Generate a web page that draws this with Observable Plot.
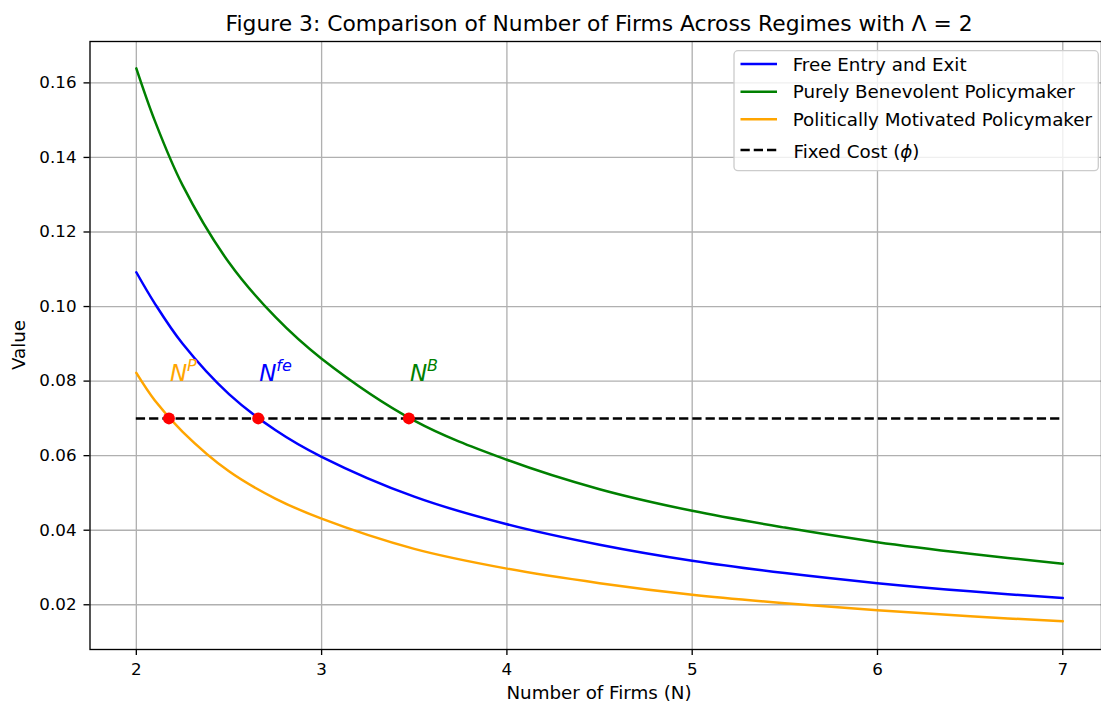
<!DOCTYPE html>
<html>
<head>
<meta charset="utf-8">
<script src="https://cdn.jsdelivr.net/npm/d3@7"></script>
<script src="https://cdn.jsdelivr.net/npm/@observablehq/plot@0.6"></script>
<style>
  html, body { margin: 0; padding: 0; background: white; }
  #chart svg { display: block; }
</style>
</head>
<body>
<div id="chart"></div>
<script>
// ---- Data ----
const N = [2, 2.1, 2.25, 2.5, 2.75, 3, 3.5, 4, 4.5, 5, 5.5, 6, 6.5, 7];
const freeEntry  = [0.1092, 0.1008, 0.0900, 0.0765, 0.0669, 0.0597, 0.0490, 0.0416, 0.0361, 0.0318, 0.0285, 0.0258, 0.0236, 0.0218];
const benevolent = [0.1639, 0.1498, 0.1325, 0.1118, 0.0972, 0.0860, 0.0694, 0.0589, 0.0510, 0.0452, 0.0407, 0.0368, 0.0337, 0.0310];
const political  = [0.0822, 0.0748, 0.0664, 0.0558, 0.0485, 0.0431, 0.0350, 0.0297, 0.0258, 0.0227, 0.0204, 0.0185, 0.0169, 0.0156];
const seriesNames = ["Free Entry and Exit", "Purely Benevolent Policymaker", "Politically Motivated Policymaker"];
const seriesColors = ["blue", "green", "orange"];
const fixedCost = 0.07;
const fixedCostLabel = "Fixed Cost (";
const eqN = [2.176, 2.658, 3.471];
const eqSup = ["P", "fe", "B"];
const eqColors = ["orange", "blue", "green"];
const labelOffset = 0.01;
const xTicks = [2, 3, 4, 5, 6, 7];
const yTicks = [0.02, 0.04, 0.06, 0.08, 0.10, 0.12, 0.14, 0.16];
const titleText = "Figure 3: Comparison of Number of Firms Across Regimes with \u039B = 2";
const xLabel = "Number of Firms (N)";
const yLabel = "Value";

// ---- Build tables ----
const seriesValues = [freeEntry, benevolent, political];
const seriesRows = seriesValues.map(vals => N.map((n, i) => ({N: n, value: vals[i]})));
const eqRows = eqN.map((n, i) => ({N: n, value: fixedCost, labelY: fixedCost + labelOffset, sup: eqSup[i], color: eqColors[i]}));
const nExtent = d3.extent(N);

const W = 1101, H = 705;
const FS = 16.7;     // tick labels
const LFS = 18.3;    // axis labels & legend
const gridStyle = {stroke: "#b0b0b0", strokeOpacity: 1, strokeWidth: 1.33};

const plot = Plot.plot({
  width: W,
  height: H,
  marginLeft: 89.5,
  marginRight: 0,
  marginTop: 41,
  marginBottom: 56,
  style: {fontFamily: "DejaVu Sans", fontSize: FS + "px", color: "black", background: "white"},
  x: {domain: [1.75, 7.209]},
  y: {domain: [0.0080, 0.1711]},
  marks: [
    Plot.gridX(xTicks, gridStyle),
    Plot.gridY(yTicks, gridStyle),
    ...seriesRows.map((rows, k) =>
      Plot.line(rows, {x: "N", y: "value", stroke: seriesColors[k], strokeWidth: 2.5, curve: "catmull-rom"})
    ),
    Plot.ruleY([fixedCost], {x1: nExtent[0], x2: nExtent[1], stroke: "black", strokeWidth: 2.5, strokeDasharray: "9.25,4"}),
    Plot.dot(eqRows, {x: "N", y: "value", r: 6, fill: "red", stroke: "none"}),
    Plot.text(eqRows, {x: "N", y: "labelY", text: () => "N", fill: "color", fontStyle: "italic", fontSize: 23, textAnchor: "start", lineAnchor: "bottom", dx: 1}),
    Plot.text(eqRows, {x: "N", y: "labelY", text: "sup", fill: "color", fontStyle: "italic", fontSize: 16, textAnchor: "start", lineAnchor: "bottom", dx: 18, dy: -10}),
    Plot.axisX({ticks: xTicks, tickFormat: d3.format("d"), tickSize: 6, tickPadding: 8, fontSize: FS, label: null, strokeWidth: 1.33}),
    Plot.axisY({ticks: yTicks, tickFormat: d3.format(".2f"), tickSize: 6, tickPadding: 7.5, fontSize: FS, label: null, strokeWidth: 1.33}),
    Plot.frame({stroke: "black", strokeWidth: 1.33})
  ]
});

document.getElementById("chart").appendChild(plot);

// ---- Title, axis labels and legend ----
const svg = d3.select(plot);
const xs = plot.scale("x");
const xMid = (xs.apply(1.75) + xs.apply(7.25)) / 2;

svg.append("text")
  .attr("x", xMid).attr("y", 30.5)
  .attr("text-anchor", "middle")
  .attr("font-family", "DejaVu Sans").attr("font-size", 21.8)
  .attr("fill", "black")
  .text(titleText);

svg.append("text")
  .attr("x", xMid).attr("y", 699)
  .attr("text-anchor", "middle")
  .attr("font-family", "DejaVu Sans").attr("font-size", LFS)
  .attr("fill", "black")
  .text(xLabel);

svg.append("text")
  .attr("transform", "translate(24.5,345) rotate(-90)")
  .attr("text-anchor", "middle")
  .attr("font-family", "DejaVu Sans").attr("font-size", LFS)
  .attr("fill", "black")
  .text(yLabel);

const lg = svg.append("g")
  .attr("font-family", "DejaVu Sans").attr("font-size", LFS)
  .attr("fill", "black").attr("text-anchor", "start");
lg.append("rect")
  .attr("x", 734).attr("y", 50.7).attr("width", 364.3).attr("height", 120)
  .attr("rx", 4).attr("ry", 4)
  .attr("fill", "white").attr("fill-opacity", 0.8)
  .attr("stroke", "#cccccc").attr("stroke-width", 1.33);

const legendEntries = seriesNames.map((name, k) => ({label: name, color: seriesColors[k], dash: null}))
  .concat([{label: fixedCostLabel, color: "black", dash: "9.25,4", phi: true}]);
const legendY = [64, 91.7, 119.3, 150];
legendEntries.forEach((e, i) => {
  const y = legendY[i];
  lg.append("line")
    .attr("x1", 740.5).attr("x2", 777).attr("y1", y).attr("y2", y)
    .attr("stroke", e.color).attr("stroke-width", 2.5)
    .attr("stroke-dasharray", e.dash);
  const t = lg.append("text")
    .attr("text-anchor", "start")
    .attr("x", e.phi ? 793.5 : 792.7)
    .attr("y", e.phi ? y + 7.5 : y + 6.5);
  t.append("tspan").text(e.label);
  if (e.phi) {
    t.append("tspan").attr("font-style", "italic").text("\u03D5");
    t.append("tspan").text(")");
  }
});
</script>
</body>
</html>
